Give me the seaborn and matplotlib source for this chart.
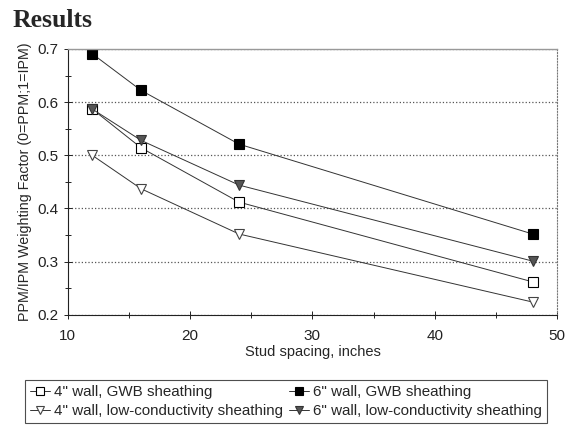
import matplotlib
matplotlib.use("Agg")
import matplotlib.pyplot as plt
import seaborn as sns
import pandas as pd
from matplotlib.ticker import MultipleLocator

# stud spacing (inches) and weighting factor for each wall type
spacing = [12, 16, 24, 48]
wall4_gwb = [0.587, 0.514, 0.412, 0.262]
wall6_gwb = [0.691, 0.622, 0.521, 0.352]
wall4_low = [0.500, 0.437, 0.352, 0.224]
wall6_low = [0.587, 0.528, 0.444, 0.301]

labels = ['4" wall, GWB sheathing', '4" wall, low-conductivity sheathing',
          '6" wall, GWB sheathing', '6" wall, low-conductivity sheathing']
values = [wall4_gwb, wall4_low, wall6_gwb, wall6_low]

rows = []
for lab, vals in zip(labels, values):
    for x, v in zip(spacing, vals):
        rows.append({'spacing': x, 'factor': v, 'series': lab})
df = pd.DataFrame(rows)

sns.set_style('ticks')
plt.rcParams['font.family'] = ['Liberation Sans', 'DejaVu Sans']

# marker styles: open square, open triangle, filled square, filled triangle
styles = {
    labels[0]: dict(marker='s', mfc='white', mec='black'),
    labels[1]: dict(marker='v', mfc='white', mec='#444444'),
    labels[2]: dict(marker='s', mfc='black', mec='black'),
    labels[3]: dict(marker='v', mfc='#555555', mec='#333333'),
}

fig = plt.figure(figsize=(5.65, 4.26), dpi=100)
ax = fig.add_axes([0.120, 0.261, 0.866, 0.624])

for lab in labels:
    st = styles[lab]
    sns.lineplot(data=df[df.series == lab], x='spacing', y='factor', ax=ax,
                 color='#333333', linewidth=0.7, marker=st['marker'],
                 markersize=6.5, markerfacecolor=st['mfc'],
                 markeredgecolor=st['mec'], markeredgewidth=0.8,
                 label=lab, legend=False)

ax.set_xlim(10, 50)
ax.set_ylim(0.2, 0.7)
ax.xaxis.set_major_locator(MultipleLocator(10))
ax.xaxis.set_minor_locator(MultipleLocator(5))
ax.yaxis.set_major_locator(MultipleLocator(0.1))
ax.yaxis.set_minor_locator(MultipleLocator(0.05))
ax.yaxis.set_major_formatter(plt.FuncFormatter(lambda v, p: f'{v:.1f}'))
ax.tick_params(which='both', direction='inout', colors='#222222', labelsize=11)
ax.tick_params(which='major', length=6, width=0.7)
ax.tick_params(which='minor', length=5, width=0.7)
ax.tick_params(axis='x', which='major', pad=7)
ax.tick_params(axis='y', which='major', pad=4)
ax.grid(axis='y', which='major', linestyle=':', color='#555555', linewidth=0.9)

for s in ['left', 'bottom']:
    ax.spines[s].set_color('#222222')
    ax.spines[s].set_linewidth(0.8)
ax.spines['top'].set_color('#999999')
ax.spines['top'].set_linewidth(1.0)
ax.spines['right'].set_linestyle(':')
ax.spines['right'].set_color('#777777')
ax.spines['right'].set_linewidth(0.8)

ax.set_xlabel('Stud spacing, inches', fontsize=10.5, labelpad=2)
ax.set_ylabel('PPM/IPM Weighting Factor (0=PPM;1=IPM)', fontsize=10.3)
ax.yaxis.set_label_coords(-0.074, 0.5)

handles, labs = ax.get_legend_handles_labels()
leg = fig.legend(handles, labs, ncol=2, loc='upper left',
                 bbox_to_anchor=(0.044, 0.108), markerscale=0.85,
                 fontsize=10.9, frameon=True, fancybox=False, handlelength=1.3,
                 handletextpad=0.25, columnspacing=0.45, borderaxespad=0,
                 labelspacing=0.3, borderpad=0.35)
leg.get_frame().set_edgecolor('#222222')
leg.get_frame().set_linewidth(0.8)

fig.text(0.023, 0.937, 'Results', fontsize=18.5, fontweight='bold',
         family=['Liberation Serif', 'DejaVu Serif'], va='baseline')

fig.savefig('out.png', dpi=100)
